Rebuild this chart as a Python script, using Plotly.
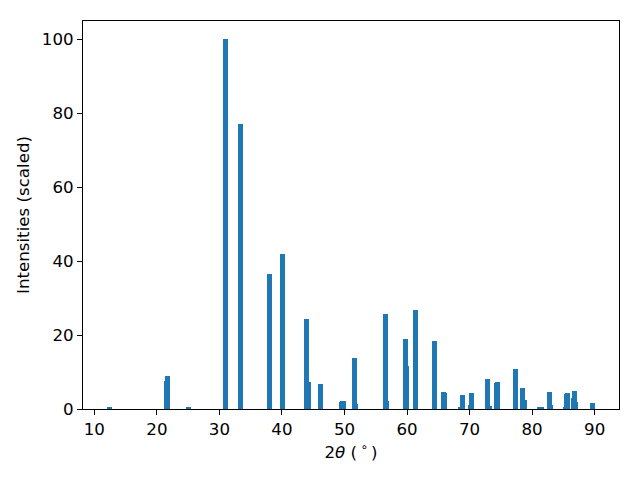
import plotly.graph_objects as go

two_theta = [12.48, 21.6, 21.76, 25.1, 30.9, 33.44, 38.08, 40.16, 44.0, 44.32, 46.24,
             49.6, 49.76, 51.52, 51.68, 56.48, 56.64, 59.68, 59.84, 61.28, 64.32,
             65.76, 65.92, 68.48, 68.8, 70.08, 70.24, 72.8, 73.12, 74.24, 74.4,
             77.28, 78.4, 78.72, 81.12, 81.44, 82.72, 82.88, 85.28, 85.44, 85.6,
             86.56, 86.72, 86.88, 89.6]
intensity = [0.3, 7.6, 8.9, 0.3, 100.0, 77.2, 36.6, 42.0, 24.4, 7.3, 6.8,
             1.9, 2.1, 13.8, 1.4, 25.7, 2.2, 19.0, 11.7, 26.8, 18.4,
             4.6, 4.3, 0.3, 3.8, 1.1, 4.3, 8.1, 0.8, 7.0, 7.3,
             10.8, 5.7, 2.4, 0.3, 0.5, 4.6, 1.1, 0.5, 4.1, 4.3,
             3.0, 4.9, 1.9, 1.6]
x_ticks = [10, 20, 30, 40, 50, 60, 70, 80, 90]
y_ticks = [0, 20, 40, 60, 80, 100]

fig = go.Figure()
fig.add_trace(go.Bar(x=two_theta, y=intensity, width=0.8,
                     marker=dict(color="#1f77b4", line=dict(width=0))))

xmin = min(two_theta) - 0.4
xmax = max(two_theta) + 0.4
pad = (xmax - xmin) * 0.05

FS = 16.67
fig.update_layout(
    width=632, height=472,
    margin=dict(l=75, r=21, t=13, b=71),
    paper_bgcolor="white", plot_bgcolor="white",
    font=dict(family="DejaVu Sans", size=FS, color="black"),
    showlegend=False, barmode="overlay", bargap=0,
    xaxis=dict(range=[xmin - pad, xmax + pad], tickmode="array",
               tickvals=x_ticks, tickfont=dict(size=FS),
               showgrid=False, zeroline=False, showline=True, mirror=True,
               linecolor="black", linewidth=1, ticks="outside", ticklen=5,
               tickcolor="black", automargin=False,
               title=dict(text="2<i>θ</i> (\u2009<sup>∘</sup>\u2009)",
                          font=dict(size=FS), standoff=8)),
    yaxis=dict(range=[0, 105], tickmode="array",
               tickvals=y_ticks, tickfont=dict(size=FS),
               showgrid=False, zeroline=False, showline=True, mirror=True,
               linecolor="black", linewidth=1, ticks="outside", ticklen=5,
               tickcolor="black", automargin=False,
               title=dict(text="Intensities (scaled)", font=dict(size=FS),
                          standoff=8)),
)

fig.write_html("out.html")
